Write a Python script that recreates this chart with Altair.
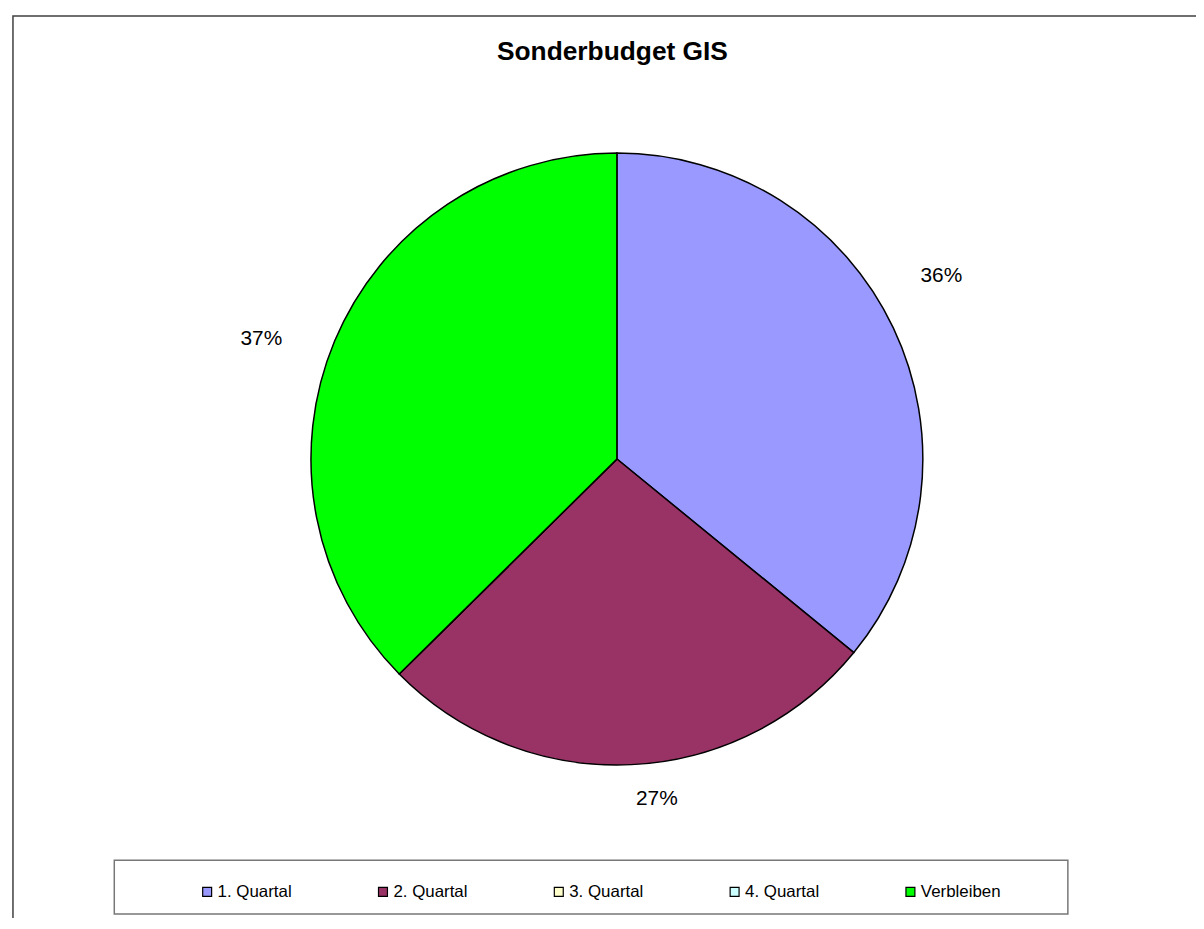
import altair as alt
import pandas as pd

categories = ["1. Quartal", "2. Quartal", "3. Quartal", "4. Quartal", "Verbleiben"]
shares = [0.359, 0.267, 0.0, 0.0, 0.374]
colors = ["#9999FF", "#993366", "#FFFFCC", "#CCFFFF", "#00FF00"]
title_text = "Sonderbudget GIS"

df = pd.DataFrame({"cat": categories, "v": shares, "idx": list(range(len(categories)))})
dummy = pd.DataFrame({"a": [0]})

W, H = 1196, 910
CX, CY, R = 613, 451, 308
FONT = "Liberation Sans"

color = alt.Color(
    "cat:N",
    scale=alt.Scale(domain=categories, range=colors),
    legend=alt.Legend(
        title=None, orient="none", legendX=192, legendY=878,
        direction="horizontal", columns=5, gridAlign="all", columnPadding=77,
        symbolType="square", symbolSize=81, symbolStrokeColor="black",
        symbolStrokeWidth=1.2, labelFontSize=17, labelFont=FONT, labelOffset=2,
        labelColor="black", padding=0,
    ),
)

arcs = alt.Chart(df).mark_arc(radius=R, stroke="black", strokeWidth=1.5).encode(
    theta=alt.Theta("v:Q", stack=True),
    color=color,
    order=alt.Order("idx:Q"),
    x=alt.value(CX),
    y=alt.value(CY),
)

labels = (
    alt.Chart(df)
    .transform_joinaggregate(total="sum(v)")
    .transform_window(cum="sum(v)", sort=[alt.SortField("idx", order="ascending")], frame=[None, 0])
    .transform_filter("datum.v > 0")
    .transform_calculate(mid="(datum.cum - datum.v/2)/datum.total*2*PI - 4*PI/180")
    .transform_calculate(lr="340+40*abs(sin(datum.mid))")
    .transform_calculate(
        lx=f"{CX}+datum.lr*sin(datum.mid)",
        ly=f"{CY}-datum.lr*cos(datum.mid)",
        lab="format(datum.v, '.0%')",
    )
    .mark_text(fontSize=21, font=FONT, color="black")
    .encode(x=alt.X("lx:Q", scale=None), y=alt.Y("ly:Q", scale=None), text="lab:N")
)

frame = alt.Chart(dummy).mark_rect(fillOpacity=0, stroke="#404040", strokeWidth=1.5).encode(
    x=alt.value(5), x2=alt.value(1400), y=alt.value(5), y2=alt.value(1200)
)

box = alt.Chart(dummy).mark_rect(fillOpacity=0, stroke="#777777", strokeWidth=1.5).encode(
    x=alt.value(107), x2=alt.value(1067), y=alt.value(855), y2=alt.value(909)
)

title = alt.Chart(dummy).mark_text(fontSize=26.5, fontWeight="bold", font=FONT, color="black").encode(
    x=alt.value(608.5), y=alt.value(41), text=alt.value(title_text)
)

chart = (
    alt.layer(frame, box, title, arcs, labels)
    .properties(width=W, height=H, padding=0, autosize="none", background="white")
    .configure_view(strokeWidth=0)
)

chart.save("out.html", embed_options={"renderer": "svg", "actions": False})
